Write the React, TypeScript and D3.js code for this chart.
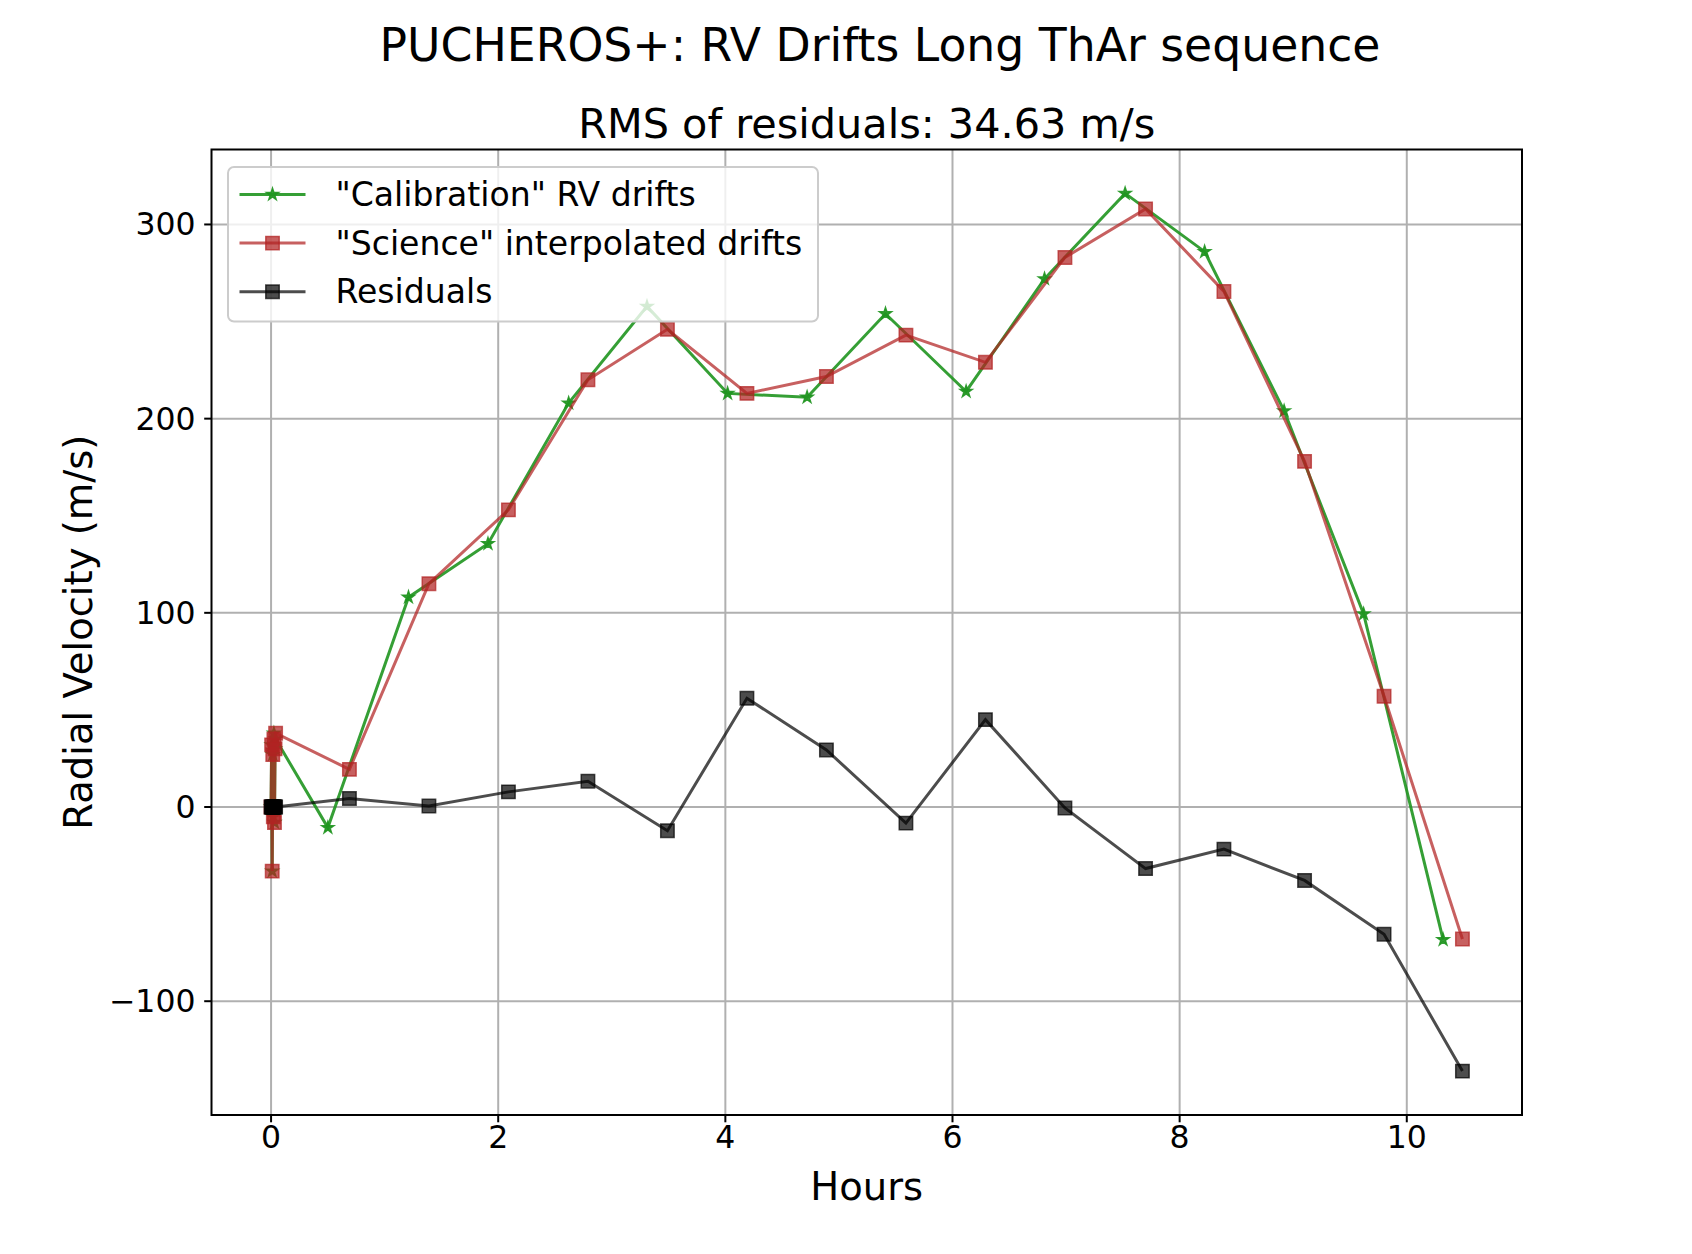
import React from 'react';
import * as d3 from 'd3';

const W = 1692;
const H = 1254;
const margin = { top: 149.5, left: 211.5, right: W - 1522, bottom: H - 1115 };
const innerW = W - margin.left - margin.right;
const innerH = H - margin.top - margin.bottom;

// hours of each exposure
const calibHours = [
  0.0, 0.005, 0.01, 0.015, 0.02, 0.025, 0.03, 0.035, 0.04,
  0.5, 1.21, 1.91, 2.62, 3.31, 4.02, 4.72, 5.41, 6.12, 6.81, 7.52, 8.22, 8.92, 9.62, 10.32,
];
const calibRV = [
  0, 32, -33, 27, -5, 38, -8, 30, 35,
  -10.6, 108, 135.6, 208, 257.8, 213, 211, 254, 214, 272, 316, 286, 204, 99.4, -68.3,
];

const sciHours = [
  0.0, 0.005, 0.01, 0.015, 0.02, 0.025, 0.03, 0.035, 0.04,
  0.69, 1.39, 2.09, 2.79, 3.49, 4.19, 4.89, 5.59, 6.29, 6.99, 7.7, 8.39, 9.1, 9.8, 10.49,
];
const sciRV = [
  0, 32, -33, 27, -5, 35, -8, 30, 38,
  19.4, 115, 153, 220, 246, 213, 221.7, 243, 229, 283, 308, 265.5, 178, 57, -68,
];
const residRV = [
  0, 0, 0, 0, 0, 0, 0, 0, 0,
  4.4, 0.5, 7.8, 13.3, -12.2, 56, 29.4, -8.3, 45, -0.5, -31.7, -21.7, -37.8, -65.5, -136,
];

const xTicks = [0, 2, 4, 6, 8, 10];
const yTicks = [-100, 0, 100, 200, 300];

const FONT = '"DejaVu Sans", sans-serif';

interface ISeries {
  name: string;
  xs: number[];
  ys: number[];
  color: string;
  alpha: number;
  marker: 'star' | 'square';
}

const series: ISeries[] = [
  { name: '"Calibration" RV drifts', xs: calibHours, ys: calibRV, color: '#1f951f', alpha: 0.9, marker: 'star' },
  { name: '"Science" interpolated drifts', xs: sciHours, ys: sciRV, color: '#b22222', alpha: 0.72, marker: 'square' },
  { name: 'Residuals', xs: sciHours, ys: residRV, color: '#000000', alpha: 0.7, marker: 'square' },
];

const pad = (lo: number, hi: number): [number, number] => {
  const r = hi - lo;
  return [lo - r * 0.05, hi + r * 0.05];
};

const allX = [...calibHours, ...sciHours];
const allY = [...calibRV, ...sciRV, ...residRV];
const xScale = d3.scaleLinear().domain(pad(d3.min(allX)!, d3.max(allX)!)).range([0, innerW]);
const yScale = d3.scaleLinear().domain(pad(d3.min(allY)!, d3.max(allY)!)).range([innerH, 0]);

const starPath = d3.symbol().type(d3.symbolStar).size(44)()!;
const squarePath = d3.symbol().type(d3.symbolSquare).size(180)()!;

const Marker = ({ s, x, y }: { s: ISeries; x: number; y: number }) => (
  <path
    d={s.marker === 'star' ? starPath : squarePath}
    transform={`translate(${x},${y})`}
    fill={s.color}
    fillOpacity={s.alpha}
    stroke={s.color}
    strokeOpacity={s.alpha}
    strokeWidth={1.5}
  />
);

const fmt = (v: number) => (v < 0 ? '\u2212' + Math.abs(v) : String(v));

const App: React.FC = () => {
  const line = d3.line<[number, number]>().x((d) => xScale(d[0])).y((d) => yScale(d[1]));

  return (
    <svg width={W} height={H} style={{ position: 'absolute', left: 0, top: 0, background: '#fff' }} fontFamily={FONT}>
      <text x={880} y={61} fontSize={45.7} textAnchor="middle">
        PUCHEROS+: RV Drifts Long ThAr sequence
      </text>
      <text x={margin.left + innerW / 2} y={138} fontSize={41.4} textAnchor="middle">
        RMS of residuals: 34.63 m/s
      </text>

      <g transform={`translate(${margin.left},${margin.top})`}>
        {/* grid */}
        {xTicks.map((t) => (
          <line key={'gx' + t} x1={xScale(t)} x2={xScale(t)} y1={0} y2={innerH} stroke="#b0b0b0" strokeWidth={2} />
        ))}
        {yTicks.map((t) => (
          <line key={'gy' + t} x1={0} x2={innerW} y1={yScale(t)} y2={yScale(t)} stroke="#b0b0b0" strokeWidth={2} />
        ))}

        {/* series */}
        {series.map((s) => {
          const pts = s.xs.map((x, i) => [x, s.ys[i]] as [number, number]);
          return (
            <g key={s.name}>
              <path d={line(pts)!} fill="none" stroke={s.color} strokeOpacity={s.alpha} strokeWidth={3} />
              {pts.map((p, i) => (
                <Marker key={i} s={s} x={xScale(p[0])} y={yScale(p[1])} />
              ))}
            </g>
          );
        })}

        {/* axes frame */}
        <rect x={0} y={0} width={innerW} height={innerH} fill="none" stroke="#000" strokeWidth={2} />

        {xTicks.map((t) => (
          <g key={'tx' + t} transform={`translate(${xScale(t)},${innerH})`}>
            <line y2={7.3} stroke="#000" strokeWidth={2} />
            <text y={33} fontSize={31.5} textAnchor="middle">
              {fmt(t)}
            </text>
          </g>
        ))}
        {yTicks.map((t) => (
          <g key={'ty' + t} transform={`translate(0,${yScale(t)})`}>
            <line x2={-7.3} stroke="#000" strokeWidth={2} />
            <text x={-16} dy="0.35em" fontSize={31.5} textAnchor="end">
              {fmt(t)}
            </text>
          </g>
        ))}

        {/* legend */}
        <g transform="translate(16.5,17.5)">
          <rect x={0} y={0} width={590} height={154.5} rx={6} fill="#fff" fillOpacity={0.8} stroke="#cccccc" strokeWidth={2} />
          {series.map((s, i) => {
            const cy = 27.5 + i * 48.6;
            return (
              <g key={'lg' + s.name}>
                <line x1={11.5} x2={77.5} y1={cy} y2={cy} stroke={s.color} strokeOpacity={s.alpha} strokeWidth={3} />
                <Marker s={s} x={44.5} y={cy} />
                <text x={107.5} y={cy} dy="0.35em" fontSize={33.1}>
                  {s.name}
                </text>
              </g>
            );
          })}
        </g>
      </g>

      <text x={margin.left + innerW / 2} y={1200} fontSize={38.5} textAnchor="middle">
        Hours
      </text>
      <text transform={`translate(92,${margin.top + innerH / 2}) rotate(-90)`} fontSize={38.5} textAnchor="middle">
        Radial Velocity (m/s)
      </text>
    </svg>
  );
};

export default App;
